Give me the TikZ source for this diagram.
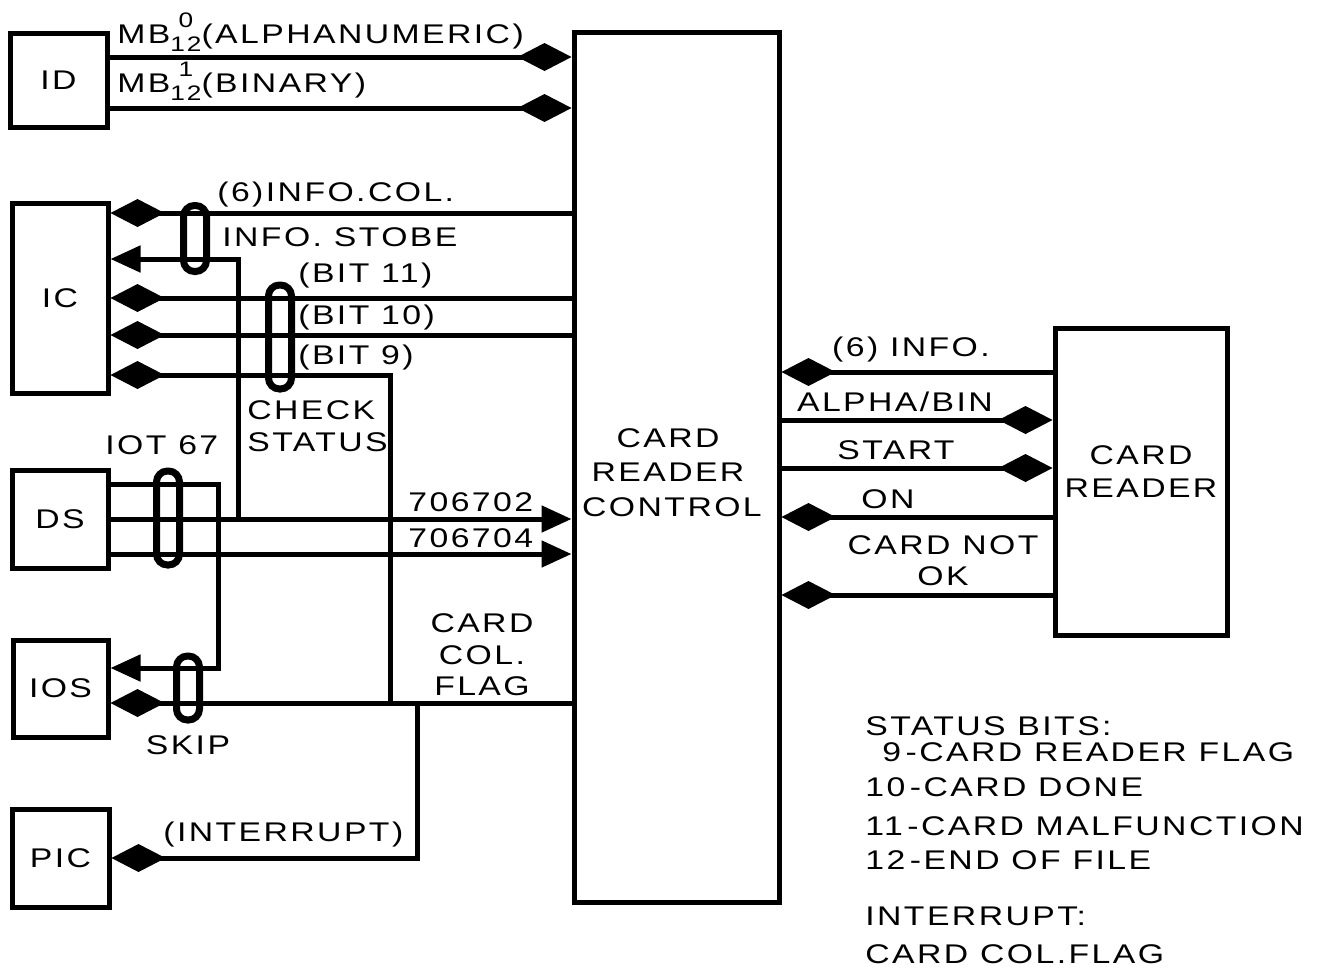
\documentclass[tikz,border=0pt]{standalone}
\usepackage{fontspec}
\setmainfont{Liberation Sans}[FakeStretch=1.25,LetterSpace=9]
\usetikzlibrary{arrows.meta}
\tikzset{
  dia/.tip={Kite[length=27pt,width=14pt,inset=13.5pt]},
  tri/.tip={Triangle[length=15pt,width=13pt]},
}
\newcommand\mbsub[2]{\raisebox{-4pt}{\fontsize{10.5pt}{10.5pt}\selectfont\ooalign{\hfil\raisebox{12pt}{#1}\hfil\cr#2\cr}}}
\begin{document}
\begin{tikzpicture}[x=0.5pt,y=-0.5pt,
  font=\fontsize{13.5pt}{16pt}\selectfont,
  box/.style={draw, line width=2.5pt, inner sep=0pt},
  wire/.style={line width=2.5pt},
  bundle/.style={draw, line width=3.5pt, rounded corners=5.5pt, inner sep=0pt, minimum width=11.5pt},
  lbl/.style={inner sep=0pt, anchor=base west},
  clbl/.style={inner sep=0pt, anchor=base}]
\useasboundingbox (0,0) rectangle (1339,971);

% boxes
\node[box, minimum width=48.5pt, minimum height=47pt] (ID) at (58.5,80) {ID};
\node[box, minimum width=48pt, minimum height=95pt] (IC) at (60,298) {IC};
\node[box, minimum width=48pt, minimum height=49pt] (DS) at (60,519) {DS};
\node[box, minimum width=47.5pt, minimum height=48.5pt] (IOS) at (60.5,688.5) {IOS};
\node[box, minimum width=48.5pt, minimum height=49pt] (PIC) at (60.5,858) {PIC};
\node[box, minimum width=102.5pt, minimum height=435pt] (CRC) at (676.5,467) {};
\node[box, minimum width=86pt, minimum height=153.5pt] (CR) at (1141,481.5) {};

\node[clbl] (crc1) at (668,447) {CARD};
\node[clbl] (crc2) at (668,481) {READER};
\node[clbl] (crc3) at (672,516) {CONTROL};
\node[clbl] (cr1) at (1141,464) {CARD};
\node[clbl] (cr2) at (1141,497) {READER};

% junction points
\coordinate (j1) at (238,519);
\coordinate (j2) at (390,703);
\coordinate (j3) at (218,668);
\coordinate (j4) at (417,703);

% left connectors
\draw[wire,-dia] (ID.east |- 0,57) -- (CRC.west |- 0,57);
\draw[wire,-dia] (ID.east |- 0,108) -- (CRC.west |- 0,108);
\draw[wire,dia-] (IC.east |- 0,213) -- (CRC.west |- 0,213);
\draw[wire,tri-] (IC.east |- 0,259) -| (j1);
\draw[wire,dia-] (IC.east |- 0,298) -- (CRC.west |- 0,298);
\draw[wire,dia-] (IC.east |- 0,335) -- (CRC.west |- 0,335);
\draw[wire,dia-] (IC.east |- 0,375) -| (j2);
\draw[wire,-tri] (DS.east |- 0,484) -| (j3) -- (IOS.east |- j3);
\draw[wire,-tri] (DS.east |- 0,519) -- (CRC.west |- 0,519);
\draw[wire,-tri] (DS.east |- 0,554) -- (CRC.west |- 0,554);
\draw[wire,dia-] (IOS.east |- 0,703) -- (CRC.west |- 0,703);
\draw[wire,-dia] (j4) |- (PIC.east |- 0,858);

% right connectors
\draw[wire,dia-] (CRC.east |- 0,372) -- (CR.west |- 0,372);
\draw[wire,-dia] (CRC.east |- 0,420) -- (CR.west |- 0,420);
\draw[wire,-dia] (CRC.east |- 0,468) -- (CR.west |- 0,468);
\draw[wire,dia-] (CRC.east |- 0,517) -- (CR.west |- 0,517);
\draw[wire,dia-] (CRC.east |- 0,595) -- (CR.west |- 0,595);

% bundle marks
\node[bundle, minimum height=33pt] (b1) at (195,238.5) {};
\node[bundle, minimum height=52pt] (b2) at (280,337) {};
\node[bundle, minimum height=47pt] (b3) at (168,518) {};
\node[bundle, minimum height=32pt] (b4) at (188,688) {};

% left labels
\node[lbl] (l1) at (117,43) {MB\mbsub{0}{12}(ALPHANUMERIC)};
\node[lbl] (l2) at (117,92) {MB\mbsub{1}{12}(BINARY)};
\node[lbl] (l3) at (217,201) {(6)INFO.COL.};
\node[lbl] (l4) at (222,246) {INFO. STOBE};
\node[lbl] (l5) at (298,282) {(BIT 11)};
\node[lbl] (l6) at (298,324) {(BIT 10)};
\node[lbl] (l7) at (298,364) {(BIT 9)};
\node[lbl] (l8) at (247,419) {CHECK};
\node[lbl] (l9) at (247,451) {STATUS};
\node[lbl] (l10) at (105,454) {IOT 67};
\node[lbl] (l11) at (408,511) {706702};
\node[lbl] (l12) at (408,547) {706704};
\node[clbl] (l13) at (482,632) {CARD};
\node[clbl] (l14) at (482,664) {COL.};
\node[clbl] (l15) at (482,695) {FLAG};
\node[clbl] (l16) at (188,754) {SKIP};
\node[lbl] (l17) at (163,841) {(INTERRUPT)};

% right labels
\node[clbl] (r1) at (911,356) {(6) INFO.};
\node[clbl] (r2) at (895,411) {ALPHA/BIN};
\node[clbl] (r3) at (896,459) {START};
\node[clbl] (r4) at (888,508) {ON};
\node[clbl] (r5) at (943,554) {CARD NOT};
\node[clbl] (r6) at (943,585) {OK};

% legend
\node[lbl] (s1) at (865,735) {STATUS BITS:};
\node[lbl] (s2) at (882,761) {9\,-CARD READER FLAG};
\node[lbl] (s3) at (865,796) {10\,-CARD DONE};
\node[lbl] (s4) at (865,835) {11\,-CARD MALFUNCTION};
\node[lbl] (s5) at (865,869) {12\,-END OF FILE};
\node[lbl] (s6) at (865,925) {INTERRUPT:};
\node[lbl] (s7) at (865,963) {CARD COL.FLAG};
\end{tikzpicture}
\end{document}
